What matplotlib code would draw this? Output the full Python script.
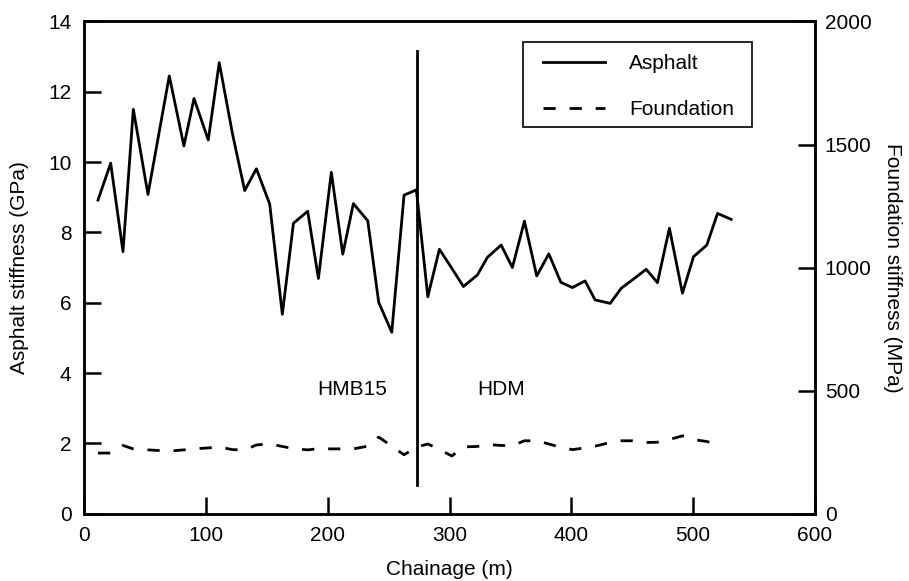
import matplotlib
matplotlib.use("Agg")
import matplotlib.pyplot as plt
from matplotlib.patches import Rectangle

plt.rcParams["font.family"] = ["Liberation Sans", "DejaVu Sans"]
plt.rcParams["font.size"] = 15

# chainage (m) of each test point
chainage = [11.5, 21.9, 32, 40.5, 52.5, 70, 82, 90.3, 102, 111, 121.8, 131.9, 141.5,
            152.4, 162.8, 171.9, 183.6, 192.4, 203, 212.4, 221.1, 232.9, 241.9, 252.6,
            262.7, 272.8, 282.2, 291.7, 301.9, 311.4, 322.9, 331.1, 342.4, 351.6, 361.5,
            371.6, 381.5, 391.4, 400.9, 411.3, 419.5, 431.9, 440.9, 450.2, 461.4, 470.7,
            480.5, 491.2, 500.3, 511.2, 520, 531.2]

# asphalt stiffness (GPa)
asphalt = [8.92, 9.97, 7.45, 11.5, 9.08, 12.45, 10.46, 11.81, 10.63, 12.83, 10.82, 9.19,
           9.81, 8.81, 5.67, 8.26, 8.6, 6.69, 9.71, 7.38, 8.82, 8.33, 6.01, 5.16, 9.06,
           9.21, 6.17, 7.52, 6.98, 6.46, 6.79, 7.29, 7.64, 7.0, 8.32, 6.76, 7.39, 6.58,
           6.43, 6.62, 6.08, 5.98, 6.41, 6.65, 6.95, 6.57, 8.12, 6.27, 7.31, 7.64, 8.54,
           8.37]

# foundation stiffness (MPa), last point has no foundation value
foundation = [246, 246, 277, 263, 259, 254, 259, 263, 267, 271, 260, 259, 279, 283, 273,
              264, 259, 264, 263, 263, 263, 274, 311, 274, 239, 270, 283, 261, 234, 271,
              273, 281, 277, 276, 296, 296, 283, 269, 260, 267, 274, 289, 296, 296, 289,
              290, 301, 316, 301, 293, 281]
foundation_chainage = chainage[:len(foundation)]

# section boundary and labels
boundary = 273.6
sections = ["HMB15", "HDM"]

fig = plt.figure(figsize=(9.09, 5.81), dpi=100)
ax = fig.add_axes([0.0924, 0.116, 0.8042, 0.847])
ax2 = ax.twinx()

l1, = ax.plot(chainage, asphalt, color="black", lw=2.0, label="Asphalt")
l2, = ax2.plot(foundation_chainage, foundation, color="black", lw=2.0,
               linestyle=(0, (4.4, 5)), label="Foundation")

ax.plot([boundary, boundary], [0.8, 13.15], color="black", lw=2.0)
ax.text(220, 3.52, sections[0], ha="center", va="center")
ax.text(342, 3.52, sections[1], ha="center", va="center")

ax.set_xlim(0, 600)
ax.set_ylim(0, 14)
ax2.set_ylim(0, 2000)
ax.set_xticks(range(0, 601, 100))
ax.set_yticks(range(0, 15, 2))
ax2.set_yticks(range(0, 2001, 500))

ax.set_xlabel("Chainage (m)", labelpad=11)
ax.set_ylabel("Asphalt stiffness (GPa)", labelpad=14)
ax2.set_ylabel("Foundation stiffness (MPa)", rotation=-90, labelpad=22)

ax.tick_params(axis="both", direction="in", length=12, width=1.8, pad=9, labelsize=15)
ax2.tick_params(axis="y", direction="in", length=12, width=1.8, pad=7, labelsize=15)
for a in (ax, ax2):
    for s in a.spines.values():
        s.set_linewidth(1.8)

# legend box drawn separately so the padding matches the original
ax2.add_patch(Rectangle((0.6005, 0.786), 0.3135, 0.1725, transform=ax2.transAxes,
                        facecolor="white", edgecolor="black", lw=1.2, zorder=4))
leg = ax2.legend([l1, l2], ["Asphalt", "Foundation"], loc="upper left",
                 bbox_to_anchor=(0.6275, 0.934), frameon=False,
                 handlelength=3.0, handletextpad=1.15, labelspacing=1.3,
                 borderpad=0, borderaxespad=0, fontsize=15)
leg.set_zorder(5)

fig.savefig("out.png", dpi=100)
